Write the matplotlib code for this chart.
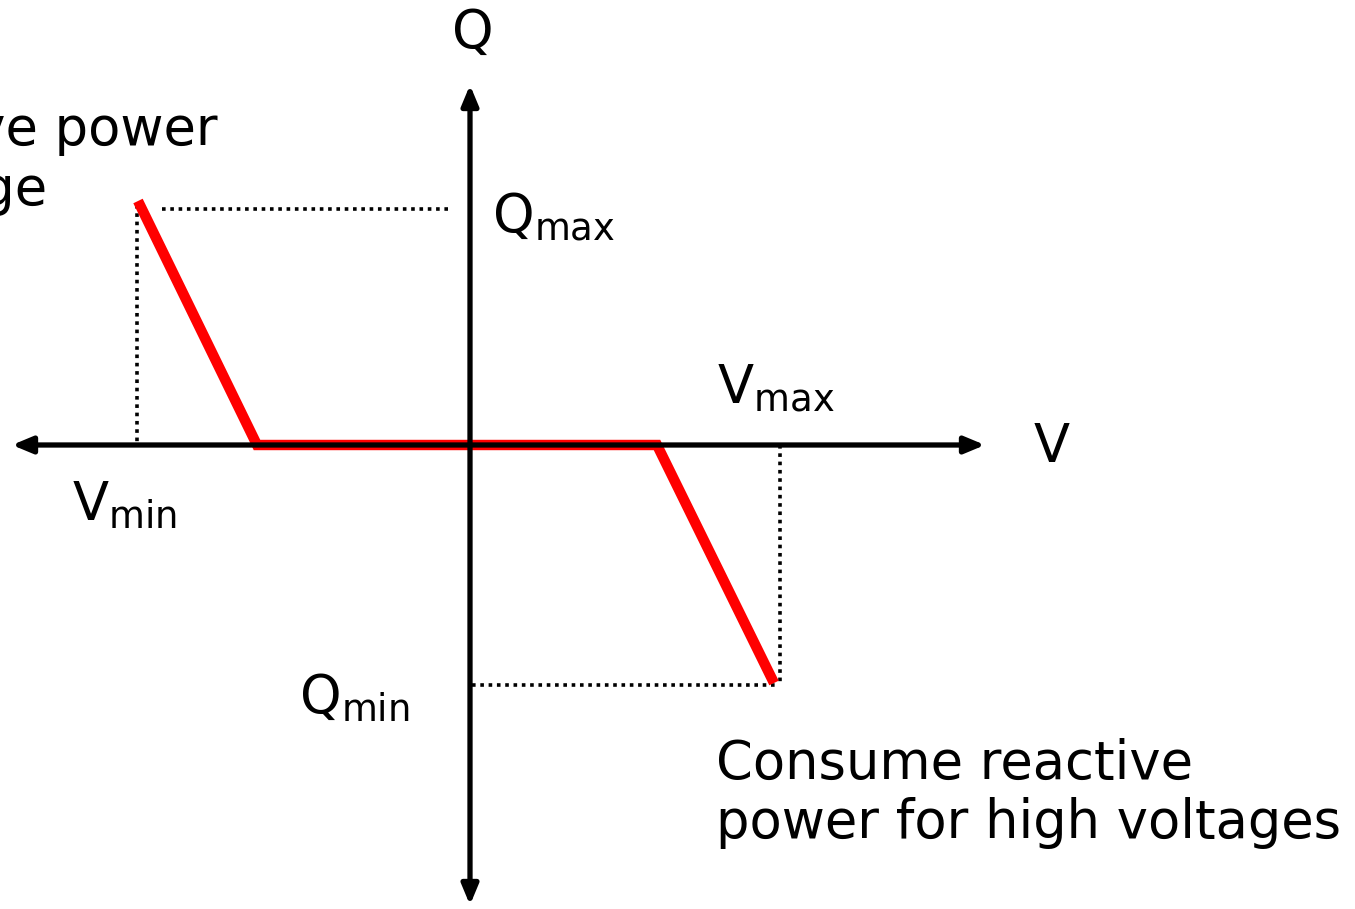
import matplotlib
matplotlib.use("Agg")
import matplotlib.pyplot as plt

plt.rcParams['font.family'] = ['DejaVu Sans']
plt.rcParams['mathtext.default'] = 'regular'

# Data (in diagram units; origin at the axes crossing)
curve_v = [-332, -213, 187, 304]
curve_q = [244, 0, 0, -238]
v_min, v_max = -333, 310
q_max, q_min = 236, -240
v_axis = (-458, 515)
q_axis = (-460, 360)

fig = plt.figure(figsize=(13.55, 9.09), dpi=100)
ax = fig.add_axes([0, 0, 1, 1])
ax.set_xlim(-470, 885)
ax.set_ylim(-464, 445)
ax.axis('off')

arrow_kw = dict(arrowstyle='-|>,head_length=1.2,head_width=0.5', color='black', lw=3.8,
                shrinkA=0, shrinkB=0)
# horizontal axis (double arrow)
ax.annotate('', xy=(v_axis[1], 0), xytext=(0, 0), arrowprops=arrow_kw)
ax.annotate('', xy=(v_axis[0], 0), xytext=(0, 0), arrowprops=arrow_kw)
# vertical axis
ax.annotate('', xy=(0, q_axis[1]), xytext=(0, 0), arrowprops=arrow_kw)
ax.annotate('', xy=(0, q_axis[0]), xytext=(0, 0), arrowprops=arrow_kw)

# dotted guides
dot_kw = dict(color='black', lw=2.6, linestyle=(0, (1, 1.3)))
ax.plot([v_min + 25, -20], [q_max, q_max], **dot_kw)
ax.plot([v_min, v_min], [q_max + 4, 0], **dot_kw)
ax.plot([v_max, v_max], [0, q_min], **dot_kw)
ax.plot([2, v_max - 5], [q_min, q_min], **dot_kw)

# red Volt-VAR curve
ax.plot(curve_v, curve_q, color='#ff0000', lw=7.5, solid_joinstyle='miter',
        solid_capstyle='butt')

fs = 38
ax.text(3, 412, 'Q', fontsize=fs, ha='center', va='center')
ax.text(582, -2, 'V', fontsize=fs, ha='center', va='center')
ax.text(22, 213, r'Q$_{max}$', fontsize=fs, ha='left', va='baseline')
ax.text(247, 42, r'V$_{max}$', fontsize=fs, ha='left', va='baseline')
ax.text(-398, -75, r'V$_{min}$', fontsize=fs, ha='left', va='baseline')
ax.text(-171, -268, r'Q$_{min}$', fontsize=fs, ha='left', va='baseline')

ax.text(-252, 300, 'Produce reactive power', fontsize=fs, ha='right', va='baseline')
ax.text(-423, 240, 'for low voltage', fontsize=fs, ha='right', va='baseline')
ax.text(246, -393, 'Consume reactive\npower for high voltages', fontsize=fs,
        ha='left', va='baseline', linespacing=1.18)

fig.savefig('out.png', dpi=100)
